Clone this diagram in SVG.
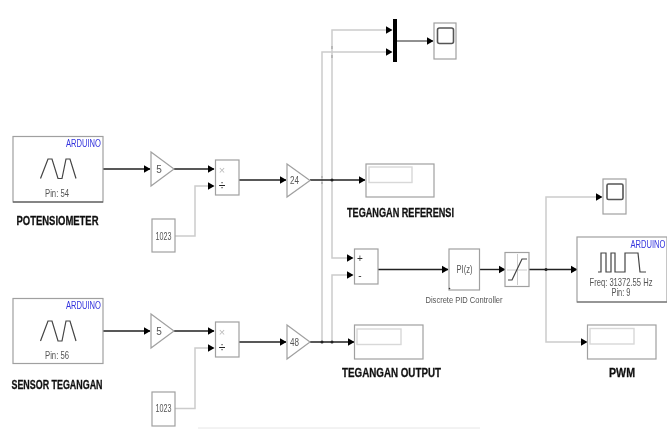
<svg xmlns="http://www.w3.org/2000/svg" width="667" height="429" viewBox="0 0 667 429">
<style>
text{font-family:"Liberation Sans",Arial,sans-serif;fill:#555;text-anchor:middle}
.b{fill:#fff;stroke:#a0a0a0;stroke-width:1.2}
.in{fill:#fff;stroke:#d8d8d8;stroke-width:1.4}
.sc{fill:none;stroke:#555;stroke-width:1.6}
.w{fill:none;stroke:#444;stroke-width:1.2}
.t{font-size:10px}
.s{font-size:10px}
.ar{font-size:10px;fill:#3333dd}
.lab{font-size:12.5px;font-weight:bold;fill:#111;stroke:#111;stroke-width:.3}
.d{fill:none;stroke:#222;stroke-width:1.4}
.l{fill:none;stroke:#ccc;stroke-width:1.5}
</style>
<defs>
<marker id="a" markerUnits="userSpaceOnUse" markerWidth="8" markerHeight="9" refX="6.500" refY="4.500" orient="auto"><path d="M0 0.500L7 4.500L0 8.500Z" fill="#000"/></marker>
<filter id="bl" x="0" y="0" width="1" height="1" filterUnits="objectBoundingBox"><feGaussianBlur stdDeviation="0.45"/></filter>
</defs>
<rect width="667" height="429" fill="#fff"/>
<g filter="url(#bl)">
<rect x="0" y="0" width="667" height="429" fill="#fff"/>
<line x1="198" y1="428" x2="480" y2="428" stroke="#e6e6e6"/>
<g id="connectors">
<path class="l" d="M175 236H195V186H214" marker-end="url(#a)"/>
<path class="l" d="M175 408.500H195V348H214" marker-end="url(#a)"/>
<path class="l" d="M332 180V30H392" marker-end="url(#a)"/>
<path class="l" d="M322 342V52H392" marker-end="url(#a)"/>
<path class="l" d="M332 180V258H353" marker-end="url(#a)"/>
<path class="l" d="M332 342V275H353" marker-end="url(#a)"/>
<path class="l" d="M546 269.500V197H602" marker-end="url(#a)"/>
<path class="l" d="M546 269.500V342H587" marker-end="url(#a)"/>
<path class="d" d="M103 169H150" marker-end="url(#a)"/>
<path class="d" d="M174 169H214" marker-end="url(#a)"/>
<path class="d" d="M239 180H286" marker-end="url(#a)"/>
<path class="d" d="M310 180H365" marker-end="url(#a)"/>
<path class="d" d="M103 331H150" marker-end="url(#a)"/>
<path class="d" d="M174 331H214" marker-end="url(#a)"/>
<path class="d" d="M239 342H286" marker-end="url(#a)"/>
<path class="d" d="M310 342H354" marker-end="url(#a)"/>
<path class="d" style="stroke-width:1" d="M397 41H433" marker-end="url(#a)"/>
<path class="d" d="M378 269.500H448" marker-end="url(#a)"/>
<path class="d" d="M479 269.500H505" marker-end="url(#a)"/>
<path class="d" d="M529 269.500H577" marker-end="url(#a)"/>
<circle cx="332" cy="180" r="1.500" fill="#222"/>
<circle cx="322" cy="342" r="1.500" fill="#222"/>
<circle cx="332" cy="342" r="1.500" fill="#222"/>
<circle cx="546" cy="269.500" r="1.500" fill="#222"/>
<path d="M322 176V178M322 182V184M332 46V49M332 55V58" stroke="#999" fill="none"/>
</g>
<g id="arduino-potensiometer">
<rect class="b" x="13" y="136.500" width="90" height="65.500"/>
<line x1="13" y1="202" x2="103" y2="202" stroke="#444"/>
<text class="ar" transform="translate(83.500 147) scale(.76 1)">ARDUINO</text>
<path class="w" d="M40.500 178.500L48 159H52L58 178.500H62L66 159H70L76 178.500"/>
<text class="t" x="57" y="197" textLength="24" lengthAdjust="spacingAndGlyphs">Pin: 54</text>
<text class="lab" x="57.500" y="224.500" textLength="82" lengthAdjust="spacingAndGlyphs">POTENSIOMETER</text>
</g>
<g id="gain-5a"><path class="b" d="M151 152L174 169L151 186Z"/><text class="t" x="159" y="173">5</text></g>
<g id="product-a"><rect class="b" x="215.500" y="160" width="23.500" height="35"/><text x="222" y="173.500" style="font-size:11px;fill:#bbb">×</text><text x="222" y="190" style="font-size:12px;fill:#222">÷</text></g>
<g id="const-a"><rect class="b" x="152" y="219" width="23" height="33"/><text class="s" x="163.500" y="239.500" textLength="16" lengthAdjust="spacingAndGlyphs">1023</text></g>
<g id="gain-24"><path class="b" d="M287 164L310 180.500L287 197Z"/><text class="t" x="294.500" y="184" textLength="9" lengthAdjust="spacingAndGlyphs">24</text></g>
<g id="arduino-sensor">
<rect class="b" x="13" y="298.500" width="90" height="65"/>
<text class="ar" transform="translate(83.500 309) scale(.76 1)">ARDUINO</text>
<path class="w" d="M40.500 341L48 321H52L58 341H62L66 321H70L76 341"/>
<text class="t" x="57" y="359" textLength="24" lengthAdjust="spacingAndGlyphs">Pin: 56</text>
<text class="lab" x="57" y="388.500" textLength="91" lengthAdjust="spacingAndGlyphs">SENSOR TEGANGAN</text>
</g>
<g id="gain-5b"><path class="b" d="M151 314L174 331L151 348Z"/><text class="t" x="159" y="335">5</text></g>
<g id="product-b"><rect class="b" x="215.500" y="322" width="23.500" height="35"/><text x="222" y="335.500" style="font-size:11px;fill:#bbb">×</text><text x="222" y="352" style="font-size:12px;fill:#222">÷</text></g>
<g id="const-b"><rect class="b" x="152" y="392" width="23" height="34"/><text class="s" x="163.500" y="412" textLength="16" lengthAdjust="spacingAndGlyphs">1023</text></g>
<g id="gain-48"><path class="b" d="M287 325L310 342L287 359Z"/><text class="t" x="294.500" y="346" textLength="9" lengthAdjust="spacingAndGlyphs">48</text></g>
<g id="mux"><rect x="393" y="19" width="4" height="43" fill="#000"/></g>
<g id="scope-top"><rect class="b" x="434" y="23" width="22" height="36"/><rect class="sc" x="437.500" y="28" width="16" height="15.500" rx="2"/></g>
<g id="display-referensi"><rect class="b" x="366" y="164" width="68" height="33"/><rect class="in" x="369" y="167" width="43" height="15.500"/>
<text class="lab" x="400.500" y="216.500" textLength="107" lengthAdjust="spacingAndGlyphs">TEGANGAN REFERENSI</text></g>
<g id="sum"><rect class="b" x="354.500" y="249" width="23.500" height="35"/><text x="360" y="262" style="font-size:10px;fill:#333">+</text><text x="360" y="279" style="font-size:10px;fill:#333">-</text></g>
<g id="pid"><rect class="b" x="449" y="249" width="30.500" height="41"/><text class="t" x="464.500" y="273" textLength="16" lengthAdjust="spacingAndGlyphs">PI(z)</text><circle cx="449.500" cy="288.500" r="0.800" fill="#333"/>
<text x="464" y="303" textLength="77" lengthAdjust="spacingAndGlyphs" style="font-size:9.500px">Discrete PID Controller</text></g>
<g id="saturation"><rect class="b" x="505" y="252.500" width="24" height="34"/><path d="M507 270H527M517.500 254V285" stroke="#ccc" fill="none"/><path class="w" d="M508 280H512L522 259H527"/></g>
<g id="display-output"><rect class="b" x="354.500" y="325" width="68.500" height="34"/><rect class="in" x="357" y="329" width="44" height="15.500"/>
<text class="lab" x="391.500" y="376.500" textLength="99" lengthAdjust="spacingAndGlyphs">TEGANGAN OUTPUT</text></g>
<g id="scope-right"><rect class="b" x="603" y="179" width="23" height="35"/><rect class="sc" x="607" y="184" width="16" height="15.500" rx="1.500"/></g>
<g id="arduino-pwm"><rect class="b" x="577" y="237" width="90" height="65"/><line x1="577" y1="302" x2="667" y2="302" stroke="#666"/>
<text class="ar" transform="translate(648 248) scale(.76 1)">ARDUINO</text>
<path class="w" d="M598 272H601V253H606V272H611V253H615V272H625V253H638L640 272H646"/>
<text class="t" transform="translate(621 286) scale(.76 1)">Freq: 31372.55 Hz</text>
<text class="t" x="621" y="296" textLength="19" lengthAdjust="spacingAndGlyphs">Pin: 9</text></g>
<g id="display-pwm"><rect class="b" x="587.500" y="325" width="68.500" height="34"/><rect class="in" x="590" y="328.500" width="44" height="15.500"/>
<text class="lab" x="622" y="376.500" textLength="26" lengthAdjust="spacingAndGlyphs">PWM</text></g>
</g>
</svg>
